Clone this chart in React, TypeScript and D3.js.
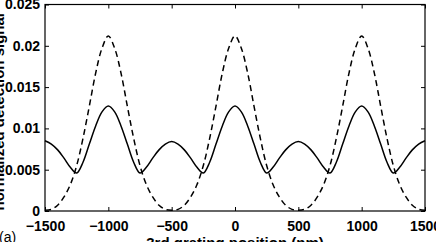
import * as d3 from "d3";
import React, { useRef, useEffect } from "react";

// grating positions (nm), 50 nm apart
const positions = [
  -1500, -1450, -1400, -1350, -1300, -1250, -1200, -1150, -1100, -1050,
  -1000, -950, -900, -850, -800, -750, -700, -650, -600, -550,
  -500, -450, -400, -350, -300, -250, -200, -150, -100, -50,
  0, 50, 100, 150, 200, 250, 300, 350, 400, 450,
  500, 550, 600, 650, 700, 750, 800, 850, 900, 950,
  1000, 1050, 1100, 1150, 1200, 1250, 1300, 1350, 1400, 1450, 1500,
];

// solid curve
const solidSignal = [
  0.0085, 0.0081, 0.0074, 0.0064, 0.0053, 0.0046, 0.0059, 0.0081, 0.0103, 0.0120,
  0.0127, 0.0120, 0.0103, 0.0081, 0.0059, 0.0046, 0.0053, 0.0064, 0.0074, 0.0081,
  0.0084, 0.0081, 0.0074, 0.0064, 0.0053, 0.0046, 0.0059, 0.0081, 0.0103, 0.0120,
  0.0127, 0.0120, 0.0103, 0.0081, 0.0059, 0.0046, 0.0053, 0.0064, 0.0074, 0.0081,
  0.0084, 0.0081, 0.0074, 0.0064, 0.0053, 0.0046, 0.0059, 0.0081, 0.0103, 0.0120,
  0.0127, 0.0120, 0.0103, 0.0081, 0.0059, 0.0046, 0.0053, 0.0064, 0.0074, 0.0081, 0.0085,
];

// dashed curve
const dashedSignal = [
  0.0001, 0.0002, 0.0007, 0.0017, 0.0032, 0.0055, 0.0088, 0.0127, 0.0167, 0.0197,
  0.0212, 0.0197, 0.0167, 0.0127, 0.0088, 0.0055, 0.0032, 0.0017, 0.0007, 0.0002,
  0.0001, 0.0002, 0.0007, 0.0017, 0.0032, 0.0055, 0.0088, 0.0127, 0.0167, 0.0197,
  0.0212, 0.0197, 0.0167, 0.0127, 0.0088, 0.0055, 0.0032, 0.0017, 0.0007, 0.0002,
  0.0001, 0.0002, 0.0007, 0.0017, 0.0032, 0.0055, 0.0088, 0.0127, 0.0167, 0.0197,
  0.0212, 0.0197, 0.0167, 0.0127, 0.0088, 0.0055, 0.0032, 0.0017, 0.0007, 0.0002, 0.0001,
];

const xTicks = [-1500, -1000, -500, 0, 500, 1000, 1500];
const xTickLabels = ["\u22121500", "\u22121000", "\u2212500", "0", "500", "1000", "1500"];
const yTicks = [0, 0.005, 0.01, 0.015, 0.02, 0.025];
const yTickLabels = ["0", "0.005", "0.01", "0.015", "0.02", "0.025"];

const App = () => {
  const svgRef = useRef<HTMLDivElement>(null);

  useEffect(() => {
    const width = 436;
    const height = 242;
    const marginLeft = 45;
    const marginRight = 11;
    const marginTop = 4.5;
    const marginBottom = 31;
    const font = "'Liberation Sans', Arial, Helvetica, sans-serif";

    const x = d3.scaleLinear()
      .domain([-1500, 1500])
      .range([marginLeft, width - marginRight]);

    const y = d3.scaleLinear()
      .domain([0, 0.025])
      .range([height - marginBottom, marginTop]);

    const svg = d3.create("svg")
      .attr("width", width)
      .attr("height", height)
      .attr("viewBox", `0 0 ${width} ${height}`)
      .style("position", "absolute")
      .style("left", "0px")
      .style("top", "0px")
      .style("background", "#fff");

    // curves
    const line = d3.line<number>()
      .x((d, i) => x(positions[i]))
      .y(d => y(d))
      .curve(d3.curveCatmullRom.alpha(0.5));

    svg.append("path")
      .attr("d", line(dashedSignal))
      .attr("fill", "none")
      .attr("stroke", "#000")
      .attr("stroke-width", 1.5)
      .attr("stroke-dasharray", "6,4");

    svg.append("path")
      .attr("d", line(solidSignal))
      .attr("fill", "none")
      .attr("stroke", "#000")
      .attr("stroke-width", 1.5);

    // axes with inward ticks
    const styleAxis = (g: any) => {
      g.select(".domain").remove();
      g.selectAll(".tick line").attr("stroke", "#000");
      g.selectAll(".tick text")
        .attr("fill", "#000")
        .style("font-family", font)
        .style("font-weight", "bold")
        .style("font-size", "14px");
    };

    svg.append("g")
      .attr("transform", `translate(0,${y(0)})`)
      .call(d3.axisBottom(x).tickValues(xTicks).tickSizeInner(-4).tickSizeOuter(0).tickPadding(10)
        .tickFormat((d, i) => xTickLabels[i]))
      .call(styleAxis);

    svg.append("g")
      .attr("transform", `translate(0,${y(0.025)})`)
      .call(d3.axisTop(x).tickValues(xTicks).tickSizeInner(-4).tickSizeOuter(0).tickFormat(() => ""))
      .call(styleAxis);

    svg.append("g")
      .attr("transform", `translate(${x(-1500)},0)`)
      .call(d3.axisLeft(y).tickValues(yTicks).tickSizeInner(-4).tickSizeOuter(0).tickPadding(5)
        .tickFormat((d, i) => yTickLabels[i]))
      .call(styleAxis);

    svg.append("g")
      .attr("transform", `translate(${x(1500)},0)`)
      .call(d3.axisRight(y).tickValues(yTicks).tickSizeInner(-4).tickSizeOuter(0).tickFormat(() => ""))
      .call(styleAxis);

    // box
    svg.append("rect")
      .attr("x", x(-1500))
      .attr("y", y(0.025))
      .attr("width", x(1500) - x(-1500))
      .attr("height", y(0) - y(0.025))
      .attr("fill", "none")
      .attr("stroke", "#000")
      .attr("stroke-width", 1.2);

    // axis titles
    svg.append("text")
      .attr("x", (x(-1500) + x(1500)) / 2)
      .attr("y", 248)
      .attr("text-anchor", "middle")
      .style("font-family", font)
      .style("font-weight", "bold")
      .style("font-size", "15px")
      .text("3rd grating position (nm)");

    svg.append("text")
      .attr("transform", `translate(4,${(y(0) + y(0.025)) / 2 + 4}) rotate(-90)`)
      .attr("text-anchor", "middle")
      .style("font-family", font)
      .style("font-weight", "bold")
      .style("font-size", "15px")
      .text("normalized detection signal");

    svg.append("text")
      .attr("x", -1)
      .attr("y", 242)
      .style("font-family", font)
      .style("font-size", "14px")
      .text("(a)");

    if (svgRef.current) {
      svgRef.current.innerHTML = "";
      svgRef.current.appendChild(svg.node() as SVGSVGElement);
    }
  }, []);

  return <div ref={svgRef}></div>;
};

export default App;
